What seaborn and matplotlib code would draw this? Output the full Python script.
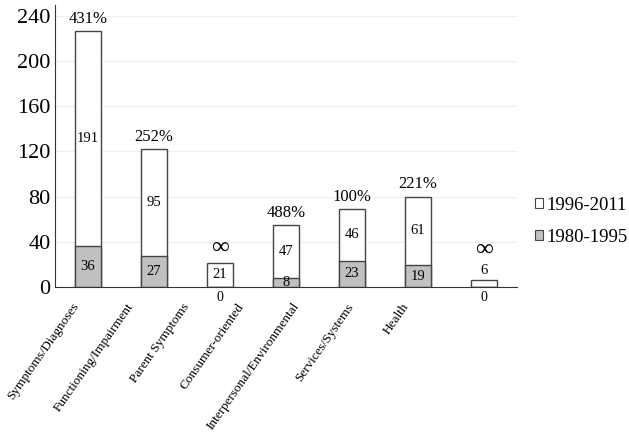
import numpy as np
import pandas as pd
import seaborn as sns
import matplotlib.pyplot as plt
from matplotlib.patches import Patch

# data
categories = ['Symptoms/Diagnoses', 'Functioning/Impairment', 'Parent Symptoms',
              'Consumer-oriented', 'Interpersonal/Environmental', 'Services/Systems', 'Health']
early = [36, 27, 0, 8, 23, 19, 0]         # 1980-1995
late = [191, 95, 21, 47, 46, 61, 6]       # 1996-2011
pct_change = ['431%', '252%', '\u221e', '488%', '100%', '221%', '\u221e']

df = pd.DataFrame({'category': categories, 'early': early, 'late': late})
df['total'] = df['early'] + df['late']

sns.set_style('white')
plt.rcParams['font.family'] = ['Liberation Serif', 'DejaVu Serif']
plt.rcParams['text.color'] = 'black'
plt.rcParams['ytick.color'] = 'black'

fig = plt.figure(figsize=(6.29, 4.44), dpi=100)
ax = fig.add_axes([0.087, 0.354, 0.735, 0.635])

edge = '#444444'
# white stacked part drawn as full total, grey base on top of it
sns.barplot(data=df, x='category', y='total', color='white', edgecolor=edge,
            linewidth=1, width=0.4, saturation=1, ax=ax)
sns.barplot(data=df, x='category', y='early', color='#c0c0c0', edgecolor=edge,
            linewidth=1, width=0.4, saturation=1, ax=ax)

ax.set_xlim(-0.5, 6.5)
ax.set_ylim(0, 250)
ax.set_yticks(np.arange(0, 241, 40))
ax.tick_params(axis='y', labelsize=16, length=0, pad=3, labelcolor='black')
ax.yaxis.grid(True, color='#eeeeee', linewidth=0.8)
ax.set_axisbelow(True)
ax.set_xlabel('')
ax.set_ylabel('')

# ticks between categories, labels set as free text
ax.set_xticks(np.arange(-0.5, 7, 1))
ax.set_xticklabels([])
ax.tick_params(axis='x', length=5, width=0.8, color='#333333', direction='out')
for i, lab in enumerate(categories):
    ax.text(-0.17 + 0.833 * i, -0.062, lab, transform=ax.get_xaxis_transform(),
            rotation=55, rotation_mode='anchor', ha='right', va='center', fontsize=9.5)

for s in ['top', 'right']:
    ax.spines[s].set_visible(False)
for s in ['left', 'bottom']:
    ax.spines[s].set_color('#333333')
    ax.spines[s].set_linewidth(0.8)

for i, row in df.iterrows():
    # early segment label
    if row['early'] == 0:
        ax.annotate('0', (i, 0), xytext=(0, -3), textcoords='offset points',
                    ha='center', va='top', fontsize=10)
    else:
        ax.text(i, row['early'] / 2, str(row['early']), ha='center', va='center', fontsize=10.5)
    # late segment label
    top_off = 3
    if row['late'] < 10:
        ax.annotate(str(row['late']), (i, row['total']), xytext=(0, 2),
                    textcoords='offset points', ha='center', va='bottom', fontsize=10.5)
        top_off = 14
    else:
        ax.text(i, row['early'] + row['late'] / 2, str(row['late']),
                ha='center', va='center', fontsize=10.5)
    p = pct_change[i]
    ax.annotate(p, (i, row['total']), xytext=(0, top_off), textcoords='offset points',
                ha='center', va='bottom', fontsize=18 if p == '\u221e' else 12)

handles = [Patch(facecolor='white', edgecolor=edge, linewidth=0.8),
           Patch(facecolor='#c0c0c0', edgecolor=edge, linewidth=0.8)]
fig.legend(handles, ['1996-2011', '1980-1995'], loc='center left',
           bbox_to_anchor=(0.85, 0.502), frameon=False, fontsize=13.5,
           borderpad=0, borderaxespad=0,
           handlelength=0.45, handleheight=0.45, handletextpad=0.2, labelspacing=0.8)

fig.savefig('out.png', dpi=100)
